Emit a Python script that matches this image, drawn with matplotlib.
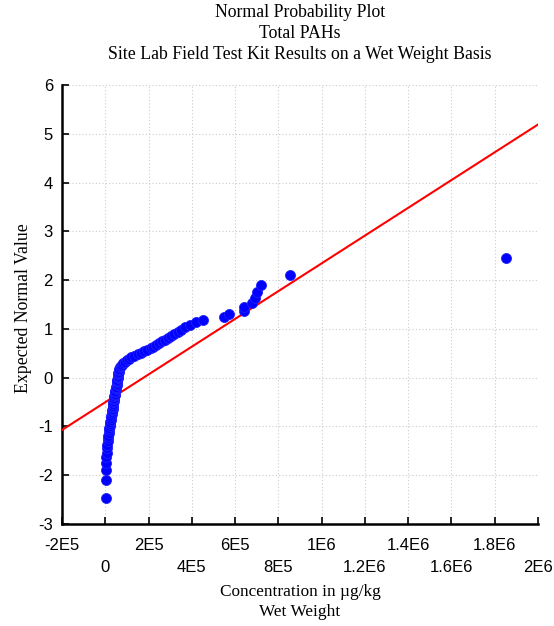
import numpy as np
import matplotlib
matplotlib.use("Agg")
import matplotlib.pyplot as plt
from statistics import NormalDist

# Concentrations (µg/kg, wet weight), sorted ascending
concentration = [
    3000, 2500, 3200, 4000, 5000, 6000, 7500, 9000, 10500, 12000,
    13500, 15000, 16500, 18000, 20000, 22000, 23500, 25000, 26500, 28000,
    29500, 31000, 32500, 34000, 35000, 36000, 37000, 38000, 39000, 40000,
    41000, 42000, 43000, 44000, 45000, 46500, 48000, 49500, 51000, 52000,
    53000, 54000, 55000, 56000, 57000, 58000, 59000, 60000, 61000, 62000,
    63000, 65000, 68000, 72000, 78000, 84000, 92000, 100000, 110000, 120000,
    135000, 150000, 165000, 180000, 195000, 210000, 222000, 235000, 250000, 262000,
    275000, 290000, 302000, 318000, 335000, 350000, 370000, 392000, 420000, 452000,
    548000, 571000, 640000, 642000, 679000, 690000, 699000, 722000, 852000, 1852000,
]

title_lines = ["Normal Probability Plot", "Total PAHs",
               "Site Lab Field Test Kit Results on a Wet Weight Basis"]
xlabel_text = "Concentration in µg/kg\nWet Weight"
ylabel_text = "Expected Normal Value"

x_ticks = [-2e5, 0, 2e5, 4e5, 6e5, 8e5, 1e6, 1.2e6, 1.4e6, 1.6e6, 1.8e6, 2e6]
x_tick_labels = ["-2E5", "0", "2E5", "4E5", "6E5", "8E5", "1E6",
                 "1.2E6", "1.4E6", "1.6E6", "1.8E6", "2E6"]
y_ticks = [-3, -2, -1, 0, 1, 2, 3, 4, 5, 6]

# Expected normal values (Blom ranks) from the data
x = np.sort(np.array(concentration, dtype=float))
n = len(x)
nd = NormalDist()
y = np.array([nd.inv_cdf((i - 0.375) / (n + 0.25)) for i in range(1, n + 1)])

# least-squares fit line of expected normal value on concentration
slope, intercept = np.polyfit(x, y, 1)

fig = plt.figure(figsize=(5.54, 6.26), dpi=100)
ax = fig.add_axes([62/554, 1 - 524/626, (538 - 62)/554, (524 - 85)/626])

ax.set_xlim(-2e5, 2e6)
ax.set_ylim(-3, 6)

ax.grid(True, color="#cccccc", linestyle=(0, (1, 2)), linewidth=0.8)
ax.set_axisbelow(True)

line_x = np.array([-2e5, 2e6])
ax.plot(line_x, intercept + slope * line_x, color="red", linewidth=1.5, zorder=3)
ax.plot(x, y, linestyle="none", marker="o", markersize=7.2,
        markerfacecolor="#0000ff", markeredgecolor="#2020ff",
        markeredgewidth=0.6, zorder=4, clip_on=False)

for s in ["top", "right"]:
    ax.spines[s].set_visible(False)
for s in ["left", "bottom"]:
    ax.spines[s].set_linewidth(1.8)

labels = [lab if k % 2 == 0 else "\n" + lab for k, lab in enumerate(x_tick_labels)]
ax.set_xticks(x_ticks)
ax.set_xticklabels(labels, fontfamily="Liberation Sans", fontsize=12, linespacing=1.6)
ax.set_yticks(y_ticks)
ax.set_yticklabels([str(v) for v in y_ticks], fontfamily="Liberation Sans", fontsize=12)
ax.tick_params(axis="both", direction="in", length=5, width=1.2)
ax.tick_params(axis="x", pad=10)
ax.tick_params(axis="y", pad=6.5)

fig.text(300/554, 1 - 4/626, "\n".join(title_lines), ha="center", va="top",
         fontfamily="Liberation Serif", fontsize=12.8, linespacing=1.3)
fig.text(300/554, 1 - 584/626, xlabel_text, ha="center", va="top",
         fontfamily="Liberation Serif", fontsize=12.4, linespacing=1.35)
fig.text(24/554, 1 - 308/626, ylabel_text, ha="center", va="center", rotation=90,
         fontfamily="Liberation Serif", fontsize=12.8)

fig.savefig("out.png", dpi=100)
